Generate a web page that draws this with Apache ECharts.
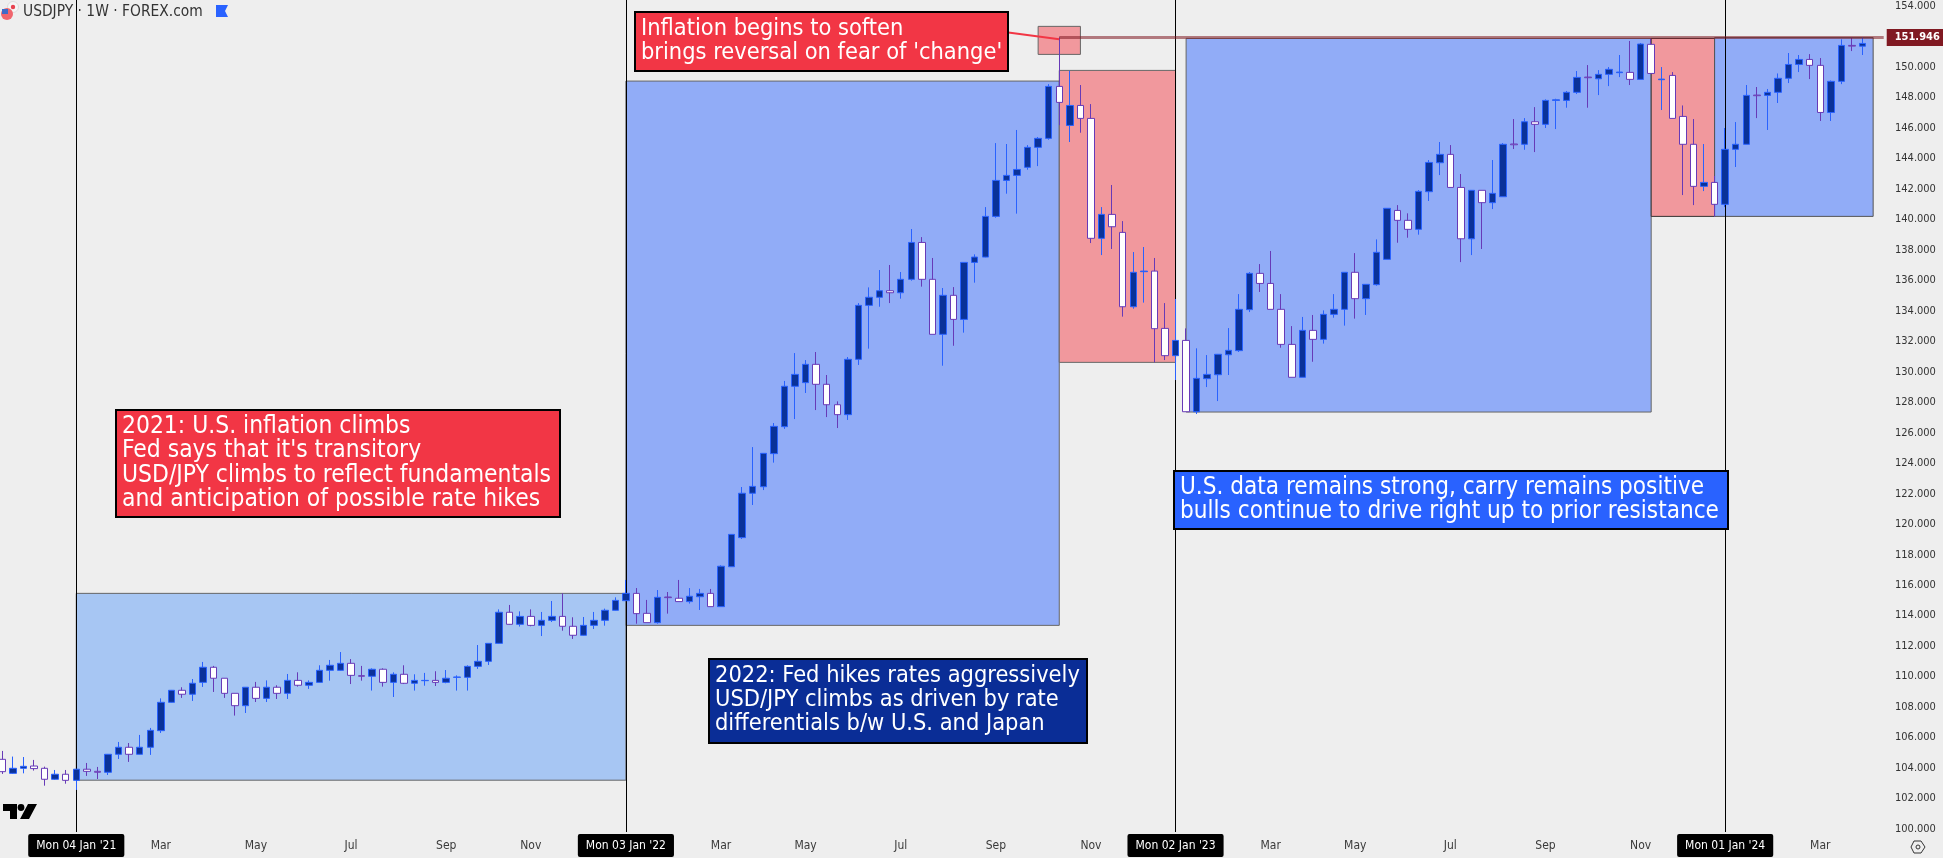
<!DOCTYPE html>
<html>
<head>
<meta charset="utf-8">
<title>USDJPY 1W</title>
<script src="https://cdn.jsdelivr.net/npm/echarts@6/dist/echarts.min.js"></script>
<style>
  html, body { margin: 0; padding: 0; background: #eeeeee; overflow: hidden; }
  /* first bar is cut by the left edge, so the chart starts just outside the window */
  #main { width: 1946px; height: 858px; margin-left: -3px; }
</style>
</head>
<body>
<div id="main"></div>
<script>
// weekly bars, first one is the week of 16 Nov 2020
const firstWeek = Date.UTC(2020, 10, 16)
const weekCount = 179
const weeks = []
for (let i = 0; i < weekCount; i++) {
  weeks.push(new Date(firstWeek + i * 7 * 86400000).toISOString().slice(0, 10))
}

const opens = [
  104.57,103.65,103.98,104.13,103.98,103.26,103.59,103.19,103.92,103.78,
  103.72,104.90,105.36,104.90,105.36,106.45,108.31,109.10,108.84,109.62,
  110.61,109.89,108.90,108.09,109.30,108.57,109.30,108.90,109.75,109.43,
  109.62,110.41,110.41,110.87,110.06,110.02,110.48,109.62,110.15,109.56,
  109.73,109.75,109.62,109.95,109.95,110.67,111.00,112.18,114.22,113.43,
  113.95,113.36,113.69,113.95,113.30,112.71,113.36,113.69,114.35,114.98,
  115.46,114.15,113.54,115.22,115.14,114.92,115.24,115.46,114.59,117.21,
  119.12,122.03,122.46,124.63,126.40,129.05,129.29,130.49,129.18,127.84,
  127.19,130.82,134.36,134.89,135.32,135.19,136.07,138.49,136.07,132.46,
  135.02,133.44,137.18,137.53,140.20,142.56,142.89,143.42,144.73,145.32,
  148.73,146.17,147.48,146.63,138.76,140.33,139.15,134.27,136.57,136.61,
  132.85,131.06,132.06,127.38,129.55,129.81,131.12,131.39,134.08,136.46,
  135.80,134.10,131.80,129.64,132.72,132.13,133.77,134.10,136.53,134.80,
  135.72,137.38,140.59,139.94,139.35,141.82,143.72,144.27,142.10,138.73,
  141.91,141.10,141.49,144.95,144.93,146.41,146.24,147.81,147.81,148.34,
  149.34,149.23,149.52,149.63,149.65,149.19,151.49,149.17,149.45,146.76,
  144.93,142.17,142.43,140.99,144.60,144.93,148.16,148.14,148.34,149.26,
  150.17,150.50,150.11,147.02,149.06,151.42,151.37
]
const closes = [
  103.76,103.98,104.11,103.96,103.26,103.59,103.19,103.92,103.78,103.72,
  104.90,105.36,104.90,105.36,106.47,108.31,109.10,108.84,109.56,110.61,
  109.89,108.90,108.09,109.30,108.57,109.30,108.90,109.75,109.43,109.62,
  110.41,110.74,110.87,110.08,110.02,110.48,109.62,110.15,109.56,109.75,
  109.75,109.62,109.89,109.97,110.67,111.00,112.18,114.22,113.43,113.95,
  113.36,113.69,113.95,113.30,112.71,113.36,113.69,114.35,115.00,115.46,
  114.13,113.54,115.20,115.18,114.92,115.27,115.46,114.59,117.24,119.33,
  122.03,122.48,124.65,126.42,129.05,129.83,130.49,129.18,127.84,127.19,
  130.82,134.36,134.89,135.32,135.19,136.07,138.49,136.07,132.46,135.02,
  133.44,137.18,137.53,140.20,142.56,142.89,143.28,144.73,145.32,148.73,
  147.68,147.48,146.63,138.76,140.33,139.52,134.27,136.53,136.61,132.83,
  131.06,132.06,127.38,129.57,129.83,131.15,131.41,134.10,136.46,135.80,
  134.10,131.80,129.64,132.72,132.13,133.77,134.10,136.53,134.80,135.74,
  137.84,140.73,139.94,139.35,141.84,143.74,144.27,142.10,138.73,141.91,
  141.10,141.71,144.93,144.90,146.41,146.24,147.81,147.85,148.34,149.32,
  149.30,149.52,149.85,149.67,149.19,151.51,149.58,149.21,146.63,144.93,
  142.17,142.43,140.99,144.60,144.93,148.14,148.12,148.34,149.26,150.17,
  150.50,150.11,147.02,149.06,151.42,151.37,151.55
]
const lows = [
  103.61,103.61,103.65,103.83,102.84,103.22,102.97,102.56,103.48,103.28,
  103.54,104.59,104.40,104.88,104.86,106.30,108.29,108.60,108.40,109.32,
  108.99,108.60,107.44,107.61,108.33,108.33,108.53,108.53,109.34,109.19,
  109.62,109.73,110.39,109.51,109.73,109.08,109.34,108.66,109.51,109.08,
  109.40,109.38,109.56,109.08,109.08,110.50,110.76,112.16,113.41,113.28,
  113.30,112.66,113.58,113.01,112.47,112.69,113.12,113.34,114.33,114.98,
  113.47,113.54,113.47,114.13,114.92,114.79,114.37,114.59,114.59,117.21,
  119.03,121.26,122.24,124.04,126.25,126.90,128.61,127.49,127.03,126.31,
  126.84,130.45,131.52,134.27,134.51,134.80,135.98,135.59,132.46,130.40,
  131.71,132.57,135.85,137.51,140.11,141.69,140.38,143.26,143.50,145.23,
  146.19,145.08,145.69,138.45,137.66,138.06,133.62,134.14,134.54,130.62,
  130.77,129.46,127.38,127.23,129.00,128.08,129.79,131.30,133.92,135.24,
  134.10,131.58,129.64,129.64,130.66,131.85,133.55,133.03,133.49,133.73,
  135.65,137.38,138.47,138.80,139.00,141.21,142.91,142.10,137.20,137.66,
  138.06,140.68,141.49,144.62,144.57,144.42,146.00,145.93,147.33,148.23,
  147.33,148.16,148.75,149.34,148.82,149.19,149.58,147.18,146.63,141.60,
  140.94,141.86,140.18,140.81,143.44,144.93,146.65,145.87,147.64,148.95,
  149.67,149.21,146.46,146.46,148.88,151.05,150.79
]
const highs = [
  105.12,104.75,104.72,104.53,104.09,103.87,103.87,103.94,104.33,104.07,
  104.92,105.71,105.64,106.17,106.63,108.57,109.12,109.30,109.84,110.96,
  110.70,109.89,108.90,109.30,109.65,109.75,109.43,110.17,110.28,109.75,
  110.74,111.09,111.61,111.15,110.70,110.54,110.54,110.28,110.74,110.15,
  110.24,110.35,110.43,110.08,110.74,112.07,112.18,114.41,114.70,114.28,
  114.41,114.24,114.96,115.46,113.89,113.91,114.24,114.46,115.20,116.34,
  115.81,115.03,115.68,115.55,116.34,115.81,115.75,115.75,117.30,119.33,
  122.44,125.06,124.65,126.64,129.40,131.23,130.77,131.30,129.79,128.06,
  130.97,134.51,135.54,136.68,137.01,136.55,139.37,138.84,137.47,135.50,
  135.56,137.18,137.71,140.81,145.01,144.95,145.87,144.88,145.41,148.88,
  151.95,149.76,148.82,147.57,140.81,142.26,139.89,137.86,138.19,137.47,
  134.51,134.78,132.85,131.54,131.10,131.17,132.87,135.10,136.55,137.07,
  137.93,135.10,133.00,133.60,133.73,134.03,135.10,136.53,137.79,135.74,
  138.69,140.73,140.94,140.40,141.93,143.90,145.08,144.88,142.98,141.91,
  141.91,143.90,145.01,146.59,146.65,147.37,147.88,147.92,148.43,149.74,
  150.13,149.80,150.00,150.79,151.71,151.58,151.90,150.00,149.67,147.48,
  146.59,144.95,142.85,146.00,146.39,148.82,148.69,148.56,149.58,150.92,
  150.79,150.85,150.59,149.12,151.82,151.95,151.95
]

const priceTicks = [100,102,104,106,108,110,112,114,116,118,120,122,124,126,128,130,132,134,136,138,140,142,144,146,148,150,152,154]
const lastPrice = 151.946

const monthDates = ['2021-03-01','2021-05-03','2021-07-05','2021-09-06','2021-11-01',
  '2022-03-07','2022-05-02','2022-07-04','2022-09-05','2022-11-07',
  '2023-03-06','2023-05-01','2023-07-03','2023-09-04','2023-11-06','2024-03-04']
const monthNames = ['Mar','May','Jul','Sep','Nov','Mar','May','Jul','Sep','Nov','Mar','May','Jul','Sep','Nov','Mar']
const yearDates = ['2021-01-04','2022-01-03','2023-01-02','2024-01-01']
const yearNames = ["Mon 04 Jan '21","Mon 03 Jan '22","Mon 02 Jan '23","Mon 01 Jan '24"]

// from week, to week, top price, bottom price
const zoneA = ['2021-01-04','2022-01-03',115.46,103.20]
const zoneB = ['2022-01-03','2022-10-17',149.08,113.36]
const zoneC = ['2022-10-03','2022-10-31',152.67,150.83]
const zoneD = ['2022-10-17','2023-01-02',149.78,130.62]
const zoneE = ['2023-01-09','2023-11-13',151.88,127.36]
const zoneF = ['2023-11-13','2023-12-25',151.88,140.20]
const zoneG = ['2023-12-25','2024-04-08',151.93,140.20]

const noteInflation2021 = ['2021: U.S. inflation climbs','Fed says that it\'s transitory','USD/JPY climbs to reflect fundamentals','and anticipation of possible rate hikes']
const noteSoften = ['Inflation begins to soften','brings reversal on fear of \'change\'']
const noteHikes = ['2022: Fed hikes rates aggressively','USD/JPY climbs as driven by rate','differentials b/w U.S. and Japan']
const noteStrong = ['U.S. data remains strong, carry remains positive','bulls continue to drive right up to prior resistance']

const uiFont = '"DejaVu Sans Condensed", "DejaVu Sans", sans-serif'
const bgColor = '#eeeeee'

const bars = opens.map((o, i) => [o, closes[i], lows[i], highs[i]])

function zone (z, color, border) {
  return [
    { coord: [z[0], z[2]], itemStyle: { color: color, borderColor: border || '#666666', borderWidth: 1 } },
    { coord: [z[1], z[3]] }
  ]
}

// red or blue boxed note, drawn over the chart
function noteBox (x, y, w, h, fill, lines, size) {
  const kids = [{
    type: 'rect',
    z: 50,
    shape: { x: x, y: y, width: w, height: h },
    style: { fill: fill, stroke: '#000', lineWidth: 2 }
  }]
  lines.forEach((t, i) => {
    kids.push({
      type: 'text',
      z: 51,
      style: {
        x: x + 6, y: y + 17 + i * 24.1, text: t,
        fill: '#fff', font: size + 'px ' + uiFont, textVerticalAlign: 'middle'
      }
    })
  })
  return { type: 'group', children: kids }
}

const myChart = echarts.init(document.getElementById('main'), null, { renderer: 'canvas' })
myChart.setOption({
  animation: false,
  backgroundColor: bgColor,
  grid: { left: 0, right: 54, top: 0, bottom: 26 },
  xAxis: {
    type: 'category',
    data: weeks,
    axisLine: { show: false },
    axisTick: { show: false },
    splitLine: { show: false },
    axisLabel: {
      margin: 7,
      interval: (i, v) => monthDates.includes(v) || yearDates.includes(v),
      formatter: v => {
        const y = yearDates.indexOf(v)
        if (y >= 0) return '{pill|' + yearNames[y] + '}'
        return '{mon|' + monthNames[monthDates.indexOf(v)] + '}'
      },
      rich: {
        pill: { backgroundColor: '#000', color: '#fff', fontFamily: uiFont, fontSize: 12, padding: [6, 8, 5, 8], lineHeight: 13, borderRadius: 2 },
        mon: { color: '#3a3a3a', fontFamily: uiFont, fontSize: 12, padding: [6, 0, 5, 0], lineHeight: 13 }
      }
    }
  },
  yAxis: {
    type: 'value',
    position: 'right',
    min: 99.8,
    max: 154.4,
    axisLine: { show: false },
    axisTick: { show: false },
    splitLine: { show: false },
    axisLabel: {
      customValues: priceTicks,
      margin: 6,
      color: '#333333',
      fontFamily: uiFont,
      fontSize: 11,
      formatter: v => v.toFixed(3)
    }
  },
  series: [
    {
      name: 'zones',
      type: 'line',
      data: [],
      silent: true,
      z: 1,
      markArea: {
        silent: true,
        z: 1,
        data: [
          zone(zoneA, '#a7c6f3'),
          zone(zoneB, '#91acf7'),
          zone(zoneC, '#f1989d'),
          zone(zoneD, '#f1989d'),
          zone(zoneE, '#91acf7'),
          zone(zoneF, '#f1989d', '#333333'),
          zone(zoneG, '#91acf7', '#555555')
        ]
      },
      markLine: {
        silent: true,
        z: 2,
        symbol: 'none',
        label: { show: false },
        lineStyle: { color: '#000', width: 1, type: 'solid' },
        data: yearDates.map(d => ({ xAxis: d }))
      }
    },
    {
      name: 'USDJPY',
      type: 'candlestick',
      z: 3,
      barWidth: 7,
      data: bars,
      itemStyle: {
        color: '#0a3299',
        color0: '#ffffff',
        borderColor: '#2962ff',
        borderColor0: '#673ab7',
        borderWidth: 1
      }
    },
    {
      name: 'notes',
      type: 'line',
      data: [],
      silent: true,
      z: 4,
      markLine: {
        silent: true,
        z: 4,
        symbol: 'none',
        data: [
          [
            {
              coord: ['2022-10-17', lastPrice],
              lineStyle: { color: 'rgba(128,25,34,0.55)', width: 3, type: 'solid' },
              label: {
                show: true, position: 'end', distance: 3,
                formatter: lastPrice.toFixed(3),
                color: '#fff', backgroundColor: '#801922', fontFamily: uiFont,
                fontSize: 11, fontWeight: 'bold', padding: [3, 8, 3, 8]
              }
            },
            { coord: [weeks[weekCount - 1], lastPrice] }
          ],
          [
            {
              coord: ['2022-09-12', 152.28],
              lineStyle: { color: '#f23645', width: 2, type: 'solid' },
              label: { show: false }
            },
            { coord: ['2022-10-17', 151.83] }
          ]
        ]
      }
    }
  ],
  graphic: [{
    type: 'group',
    x: 3,
    children: [
      noteBox(116, 410, 444, 107, '#f23645', noteInflation2021, 24.4),
      noteBox(635, 12, 373, 59, '#f23645', noteSoften, 23.4),
      noteBox(709, 659, 378, 84, '#0a2d96', noteHikes, 23.4),
      noteBox(1174, 471, 554, 58, '#2962ff', noteStrong, 24.1),
      // header
      { type: 'text', z: 60, style: { x: 23, y: 12, text: 'USDJPY · 1W · FOREX.com', fill: '#333', font: '15.4px ' + uiFont, textVerticalAlign: 'middle' } },
      { type: 'circle', z: 60, shape: { cx: 13, cy: 7, r: 5.5 }, style: { fill: '#f5f5f5', stroke: '#ddd', lineWidth: 1 } },
      { type: 'circle', z: 60, shape: { cx: 13, cy: 7, r: 2.2 }, style: { fill: '#e8424f' } },
      { type: 'circle', z: 61, shape: { cx: 7, cy: 14, r: 6 }, style: { fill: '#f0656d' } },
      { type: 'rect', z: 61, shape: { x: 2, y: 9, width: 6, height: 5 }, style: { fill: '#3e6bc8' } },
      { type: 'polygon', z: 60, shape: { points: [[216, 5], [228, 5], [225, 11], [228, 17], [216, 17]] }, style: { fill: '#2962ff' } },
      // logo
      { type: 'polygon', z: 60, shape: { points: [[3, 804], [17, 804], [17, 819], [10, 819], [10, 811], [3, 811]] }, style: { fill: '#000' } },
      { type: 'circle', z: 60, shape: { cx: 21, cy: 807.5, r: 3.4 }, style: { fill: '#000' } },
      { type: 'polygon', z: 60, shape: { points: [[28, 804], [37, 804], [29, 819], [20, 819]] }, style: { fill: '#000' } },
      // corner of the scales, cuts the lowest price label
      { type: 'rect', z: 55, shape: { x: 1889, y: 833, width: 54, height: 25 }, style: { fill: bgColor } },
      { type: 'polygon', z: 60, shape: { points: [[1911, 847], [1914, 841], [1921, 841], [1925, 847], [1921, 853], [1914, 853]] }, style: { fill: 'none', stroke: '#333', lineWidth: 1 } },
      { type: 'circle', z: 60, shape: { cx: 1918, cy: 847, r: 2 }, style: { fill: 'none', stroke: '#333', lineWidth: 1 } }
    ]
  }]
})
</script>
</body>
</html>
